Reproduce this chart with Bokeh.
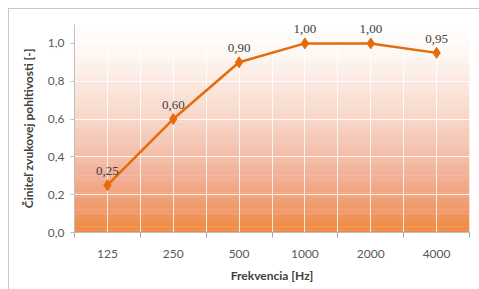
import numpy as np
from bokeh.plotting import figure
from bokeh.models import FixedTicker, CustomJSTickFormatter, ColumnDataSource, LabelSet, Range1d, InlineStyleSheet
from bokeh.embed import file_html
from bokeh.resources import INLINE

categories = ["125", "250", "500", "1000", "2000", "4000"]
values = [0.25, 0.60, 0.90, 1.00, 1.00, 0.95]
labels = ["0,25", "0,60", "0,90", "1,00", "1,00", "0,95"]
y_ticks = [0.0, 0.2, 0.4, 0.6, 0.8, 1.0]

FONT = "Lato"
n = len(categories)
xs = [i + 0.5 for i in range(n)]

p = figure(width=479, height=289, output_backend="svg", toolbar_location=None,
           x_range=Range1d(0, n), y_range=Range1d(0, 1.1),
           min_border_left=74, min_border_right=10, min_border_top=24, min_border_bottom=57)
p.outline_line_color = None
p.background_fill_color = "white"
p.border_fill_color = "white"

# outer chart border (top and left edges visible in the reference)
p.stylesheets = [InlineStyleSheet(css="""
:host { position: relative; }
:host::after { content: ""; position: absolute; left: 8px; top: 8px; right: -4px; bottom: -4px;
  border-left: 1px solid #c8c8c8; border-top: 1px solid #c8c8c8; pointer-events: none; }
""")]

# gradient background of the plot area
stops_y = [0.0, 0.12, 0.3, 0.6, 0.95, 1.1]
stops_c = ["#F0883A", "#EF9A68", "#F2B096", "#F8D6C8", "#FEF8F4", "#FFFFFF"]
def hex2rgb(h):
    return np.array([int(h[i:i+2], 16) for i in (1, 3, 5)], dtype=float)
rgb = np.array([hex2rgb(c) for c in stops_c])
nb = 110
edges = np.linspace(0, 1.1, nb + 1)
mids = (edges[:-1] + edges[1:]) / 2
cols = []
for m in mids:
    r = np.interp(m, stops_y, rgb[:, 0]); g = np.interp(m, stops_y, rgb[:, 1]); b = np.interp(m, stops_y, rgb[:, 2])
    cols.append("#%02x%02x%02x" % (int(r), int(g), int(b)))
bg = p.quad(left=0, right=n, bottom=edges[:-1], top=edges[1:] + 0.002, fill_color=cols, line_color=None)
bg.level = "image"

src = ColumnDataSource(dict(x=xs, y=values, lab=labels))
p.line("x", "y", source=src, line_color="#E46C0A", line_width=2.5)
p.scatter("x", "y", source=src, marker="diamond", size=11, fill_color="#E46C0A", line_color="#E46C0A")

ls = LabelSet(x="x", y="y", text="lab", source=src, y_offset=10, text_align="center",
              text_baseline="bottom", text_font=FONT, text_font_size="13px", text_color="#404040")
p.add_layout(ls)

# axes
p.xaxis.ticker = FixedTicker(ticks=xs, minor_ticks=list(range(n + 1)))
p.xaxis.major_label_overrides = {x: c for x, c in zip(xs, categories)}
p.xaxis.major_tick_line_color = None
p.xaxis.minor_tick_line_color = "#a6a6a6"
p.xaxis.minor_tick_out = 5
p.xaxis.minor_tick_in = 0
p.xaxis.axis_line_color = "#bfbfbf"
p.xaxis.major_label_standoff = 11
p.xaxis.axis_label = "Frekvencia [Hz]"
p.xaxis.axis_label_standoff = 7

p.yaxis.ticker = FixedTicker(ticks=y_ticks)
p.yaxis.formatter = CustomJSTickFormatter(code="return tick.toFixed(1).replace('.', ',');")
p.yaxis.major_tick_line_color = "#bfbfbf"
p.yaxis.major_tick_out = 4
p.yaxis.major_tick_in = 0
p.yaxis.minor_tick_line_color = None
p.yaxis.axis_line_color = "#bfbfbf"
p.yaxis.major_label_standoff = 6
p.yaxis.axis_label = "Činiteľ zvukovej pohltivosti [-]"
p.yaxis.axis_label_standoff = 9

for ax in (p.xaxis, p.yaxis):
    ax.major_label_text_font = FONT
    ax.major_label_text_font_size = "12px"
    ax.major_label_text_color = "#595959"
    ax.axis_label_text_font = FONT
    ax.axis_label_text_font_size = "12px"
    ax.axis_label_text_font_style = "bold"
    ax.axis_label_text_color = "#404040"

p.xgrid.ticker = FixedTicker(ticks=xs, minor_ticks=list(range(n + 1)))
p.xgrid.grid_line_color = "white"
p.xgrid.minor_grid_line_color = "white"
p.xgrid.grid_line_alpha = 0.8
p.xgrid.minor_grid_line_alpha = 0.8
p.ygrid.ticker = FixedTicker(ticks=y_ticks)
p.ygrid.grid_line_color = "white"
p.ygrid.grid_line_alpha = 0.9

open("out.html", "w").write(file_html(p, INLINE))
